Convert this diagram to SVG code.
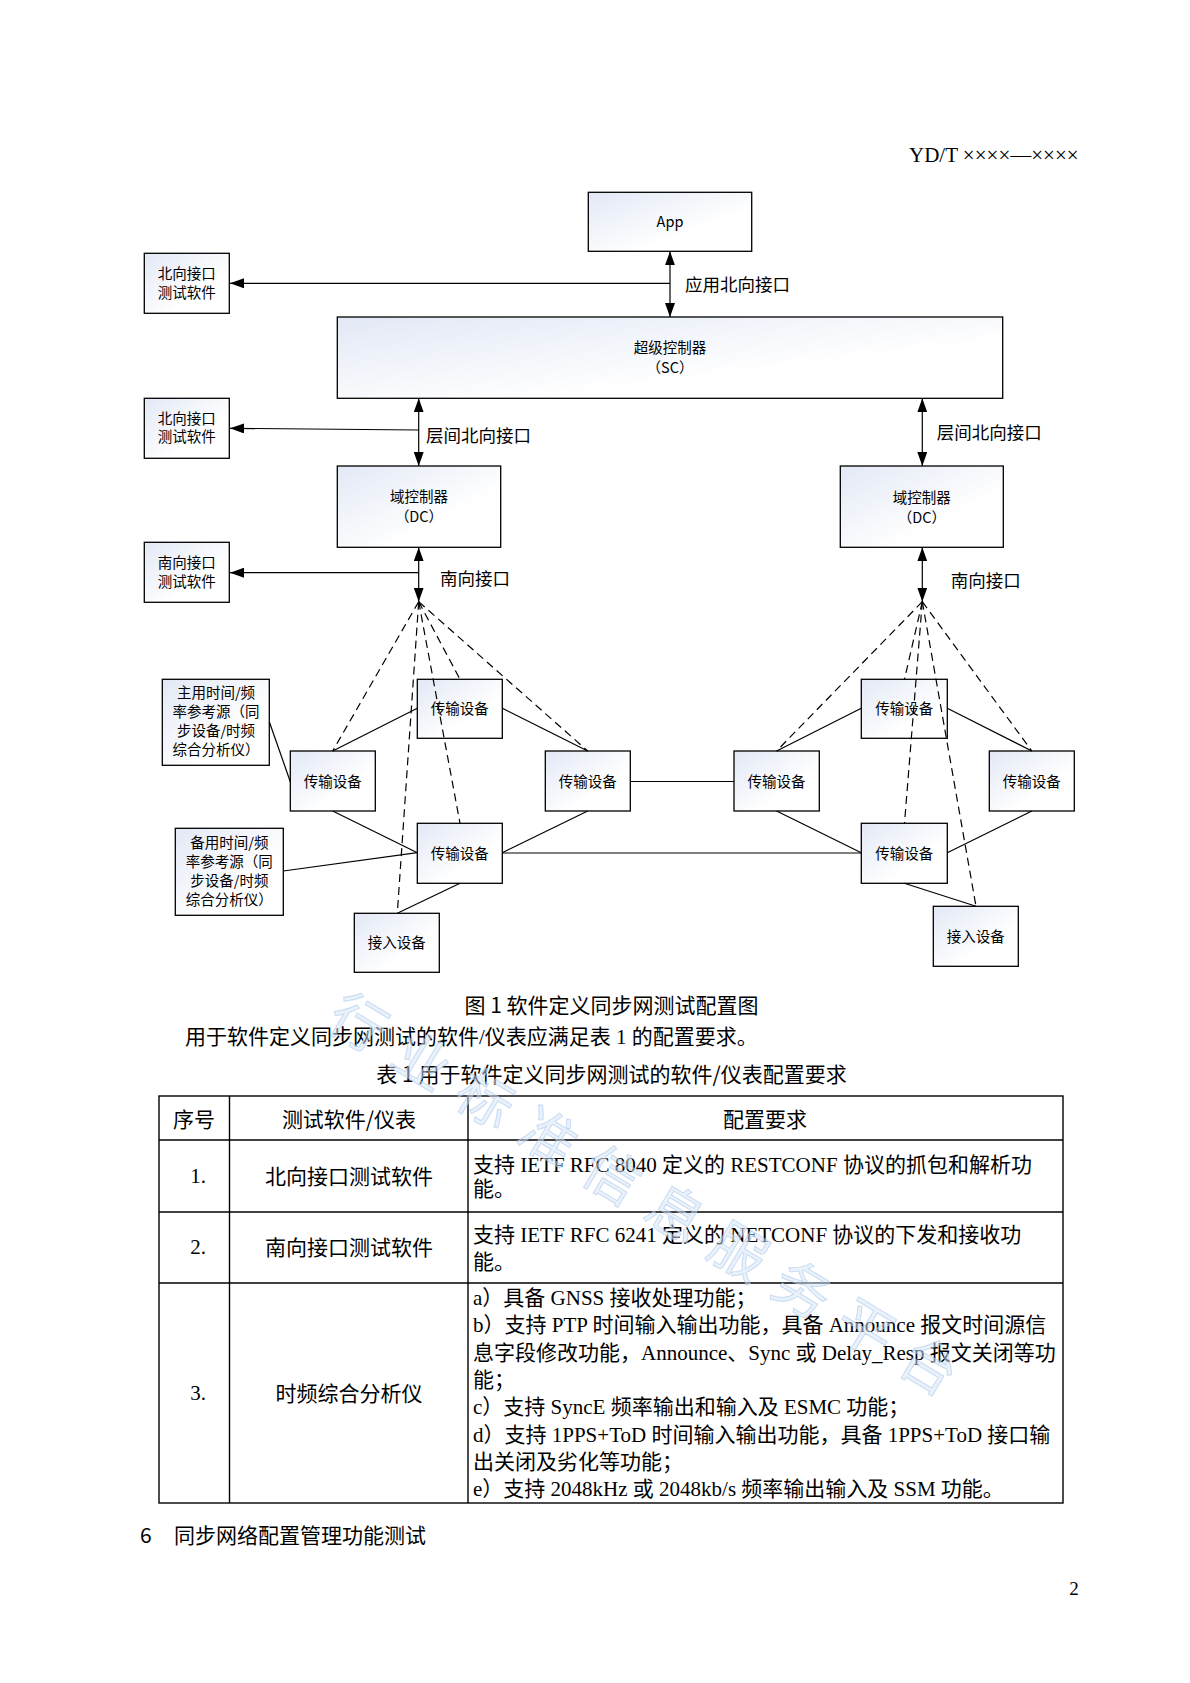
<svg xmlns="http://www.w3.org/2000/svg" width="1190" height="1683" viewBox="0 0 1190 1683">
<style>
.box{fill:url(#g);stroke:#000;stroke-width:1.3}
.nt{font-family:"Noto Sans CJK SC","Noto Sans",sans-serif;font-size:14.5px;fill:#000;text-anchor:middle}
.lb{font-family:"Noto Sans CJK SC","Noto Sans",sans-serif;font-size:17.5px;fill:#000}
.ln{stroke:#000;stroke-width:1.2;fill:none}
.ds{stroke:#000;stroke-width:1.2;fill:none;stroke-dasharray:8 5}
.hd{font-family:"Noto Sans CJK SC",sans-serif;font-size:21px;fill:#000}
.sr{font-family:"Liberation Serif","Noto Sans CJK SC",serif;font-size:21px;fill:#000}
.tb{stroke:#000;stroke-width:1.4;fill:none}
</style>
<defs>
<linearGradient id="g" x1="0" y1="0" x2="1" y2="1">
<stop offset="0" stop-color="#e2e8f5"/>
<stop offset="0.65" stop-color="#ffffff"/>
</linearGradient>
<marker id="ar" viewBox="0 0 14 10" refX="14" refY="5" markerWidth="14" markerHeight="10" markerUnits="userSpaceOnUse" orient="auto-start-reverse">
<path d="M0,0 L14,5 L0,10 z" fill="#000"/>
</marker>
</defs>
<rect width="1190" height="1683" fill="#fff"/>

<text x="909" y="162" font-family="Liberation Serif,serif" font-size="21">YD/T ××××—××××</text>

<g id="app"><rect class="box" x="588.3" y="192.3" width="163.4" height="59"/><text class="nt" x="670" y="227">App</text></g>
<g id="sc"><rect class="box" x="337.3" y="317" width="665.4" height="81.3"/><text class="nt" x="670" y="353.2">超级控制器</text><text class="nt" x="670" y="373.2">（SC）</text></g>
<g id="dc1"><rect class="box" x="337.3" y="466" width="163.4" height="81.3"/><text class="nt" x="419" y="502.2">域控制器</text><text class="nt" x="419" y="522.2">（DC）</text></g>
<g id="dc2"><rect class="box" x="840.3" y="466" width="163" height="81.3"/><text class="nt" x="921.8" y="502.8">域控制器</text><text class="nt" x="921.8" y="522.8">（DC）</text></g>
<g id="nt1"><rect class="box" x="144.3" y="253.3" width="85" height="60"/><text class="nt" x="186.8" y="278.8">北向接口</text><text class="nt" x="186.8" y="297.8">测试软件</text></g>
<g id="nt2"><rect class="box" x="144.3" y="398.3" width="85" height="60"/><text class="nt" x="186.8" y="423.5">北向接口</text><text class="nt" x="186.8" y="442.2">测试软件</text></g>
<g id="st1"><rect class="box" x="144.3" y="542.3" width="85" height="60"/><text class="nt" x="186.8" y="567.8">南向接口</text><text class="nt" x="186.8" y="587.2">测试软件</text></g>
<g id="ref1"><rect class="box" x="162.3" y="679.3" width="107" height="86"/><text class="nt" x="216" y="698">主用时间/频</text><text class="nt" x="216" y="717">率参考源（同</text><text class="nt" x="216" y="736">步设备/时频</text><text class="nt" x="216" y="755">综合分析仪）</text></g>
<g id="ref2"><rect class="box" x="175.3" y="828.3" width="108" height="87"/><text class="nt" x="229.3" y="847.5">备用时间/频</text><text class="nt" x="229.3" y="866.5">率参考源（同</text><text class="nt" x="229.3" y="885.5">步设备/时频</text><text class="nt" x="229.3" y="904.5">综合分析仪）</text></g>
<g id="t1"><rect class="box" x="417.3" y="679.3" width="85" height="59"/><text class="nt" x="459.8" y="714.3">传输设备</text></g>
<g id="t2"><rect class="box" x="290.3" y="751" width="85" height="60"/><text class="nt" x="332.8" y="786.5">传输设备</text></g>
<g id="t3"><rect class="box" x="545.3" y="751" width="85" height="60"/><text class="nt" x="587.8" y="786.5">传输设备</text></g>
<g id="t4"><rect class="box" x="417.3" y="823.3" width="85" height="60"/><text class="nt" x="459.8" y="858.8">传输设备</text></g>
<g id="a1"><rect class="box" x="354.3" y="913.3" width="85" height="59"/><text class="nt" x="396.8" y="948.3">接入设备</text></g>
<g id="t5"><rect class="box" x="861.3" y="679.3" width="86" height="59"/><text class="nt" x="904.3" y="714.3">传输设备</text></g>
<g id="t6"><rect class="box" x="734" y="751" width="85.3" height="60"/><text class="nt" x="776.6" y="786.5">传输设备</text></g>
<g id="t7"><rect class="box" x="989.3" y="751" width="85" height="60"/><text class="nt" x="1031.8" y="786.5">传输设备</text></g>
<g id="t8"><rect class="box" x="861.3" y="823.3" width="86" height="60"/><text class="nt" x="904.3" y="858.8">传输设备</text></g>
<g id="a2"><rect class="box" x="933.3" y="906.3" width="85" height="60"/><text class="nt" x="975.8" y="941.8">接入设备</text></g>

<g id="connectors">
<line class="ln" x1="670" y1="251.3" x2="670" y2="317" marker-start="url(#ar)" marker-end="url(#ar)"/>
<line class="ln" x1="670" y1="283.3" x2="230" y2="283.3" marker-end="url(#ar)"/>
<line class="ln" x1="418.7" y1="398.3" x2="418.7" y2="466" marker-start="url(#ar)" marker-end="url(#ar)"/>
<line class="ln" x1="418.7" y1="430" x2="230" y2="428.3" marker-end="url(#ar)"/>
<line class="ln" x1="922.3" y1="398.3" x2="922.3" y2="466" marker-start="url(#ar)" marker-end="url(#ar)"/>
<line class="ln" x1="418.7" y1="547.3" x2="418.7" y2="601.7" marker-start="url(#ar)" marker-end="url(#ar)"/>
<line class="ln" x1="418.7" y1="572.7" x2="230" y2="572.7" marker-end="url(#ar)"/>
<line class="ln" x1="922.3" y1="547.3" x2="922.3" y2="601.7" marker-start="url(#ar)" marker-end="url(#ar)"/>

<line class="ds" x1="418.7" y1="601.7" x2="332.7" y2="751"/>
<line class="ds" x1="418.7" y1="601.7" x2="397.3" y2="913.3"/>
<line class="ds" x1="418.7" y1="601.7" x2="460" y2="823.3"/>
<line class="ds" x1="418.7" y1="601.7" x2="460" y2="679.3"/>
<line class="ds" x1="418.7" y1="601.7" x2="587.7" y2="751"/>
<line class="ds" x1="922.3" y1="601.7" x2="776.6" y2="751"/>
<line class="ds" x1="922.3" y1="601.7" x2="904.5" y2="679.3"/>
<line class="ds" x1="922.3" y1="601.7" x2="904.5" y2="823.3"/>
<line class="ds" x1="922.3" y1="601.7" x2="976" y2="906.3"/>
<line class="ds" x1="922.3" y1="601.7" x2="1031.8" y2="751"/>

<line class="ln" x1="269.3" y1="721.7" x2="290.3" y2="781.7"/>
<line class="ln" x1="332.7" y1="751" x2="417.3" y2="708.3"/>
<line class="ln" x1="502.3" y1="708.3" x2="587.7" y2="751"/>
<line class="ln" x1="332.7" y1="811" x2="417.3" y2="852.7"/>
<line class="ln" x1="587.7" y1="811" x2="502.3" y2="852.7"/>
<line class="ln" x1="630.3" y1="781.5" x2="734" y2="781.5"/>
<line class="ln" x1="502.3" y1="853" x2="861.3" y2="853"/>
<line class="ln" x1="283.3" y1="871" x2="417.3" y2="852.7"/>
<line class="ln" x1="460" y1="883.3" x2="397.3" y2="913.3"/>
<line class="ln" x1="776.6" y1="751" x2="861.3" y2="708.3"/>
<line class="ln" x1="947.3" y1="708.3" x2="1031.8" y2="751"/>
<line class="ln" x1="776.6" y1="811" x2="861.3" y2="852.7"/>
<line class="ln" x1="1031.8" y1="811" x2="947.3" y2="852.7"/>
<line class="ln" x1="904.3" y1="883.3" x2="976" y2="906.3"/>
</g>

<text class="lb" x="685" y="290.8">应用北向接口</text>
<text class="lb" x="426" y="441.6">层间北向接口</text>
<text class="lb" x="936.7" y="439">层间北向接口</text>
<text class="lb" x="440" y="585">南向接口</text>
<text class="lb" x="950.7" y="586.6">南向接口</text>

<text class="hd" x="611.5" y="1013" text-anchor="middle">图 1 软件定义同步网测试配置图</text>
<text class="sr" x="185" y="1044">用于软件定义同步网测试的软件/仪表应满足表 1 的配置要求。</text>
<text class="hd" x="611.5" y="1082" text-anchor="middle">表 1 用于软件定义同步网测试的软件/仪表配置要求</text>

<g id="table">
<rect class="tb" x="159" y="1096" width="904" height="407"/>
<line class="tb" x1="159" y1="1140" x2="1063" y2="1140"/>
<line class="tb" x1="159" y1="1212" x2="1063" y2="1212"/>
<line class="tb" x1="159" y1="1283" x2="1063" y2="1283"/>
<line class="tb" x1="229.5" y1="1096" x2="229.5" y2="1503"/>
<line class="tb" x1="468" y1="1096" x2="468" y2="1503"/>
<text class="hd" x="194" y="1127" text-anchor="middle">序号</text>
<text class="hd" x="349" y="1127" text-anchor="middle">测试软件/仪表</text>
<text class="hd" x="765" y="1127" text-anchor="middle">配置要求</text>
<text class="sr" x="198" y="1183" text-anchor="middle">1.</text>
<text class="sr" x="349" y="1184" text-anchor="middle">北向接口测试软件</text>
<text class="sr" x="473" y="1172">支持 IETF RFC 8040 定义的 RESTCONF 协议的抓包和解析功</text>
<text class="sr" x="473" y="1196">能。</text>
<text class="sr" x="198" y="1254" text-anchor="middle">2.</text>
<text class="sr" x="349" y="1255" text-anchor="middle">南向接口测试软件</text>
<text class="sr" x="473" y="1242">支持 IETF RFC 6241 定义的 NETCONF 协议的下发和接收功</text>
<text class="sr" x="473" y="1269">能。</text>
<text class="sr" x="198" y="1400" text-anchor="middle">3.</text>
<text class="sr" x="349" y="1401" text-anchor="middle">时频综合分析仪</text>
<text class="sr" x="473" y="1305">a）具备 GNSS 接收处理功能；</text>
<text class="sr" x="473" y="1332.3">b）支持 PTP 时间输入输出功能，具备 Announce 报文时间源信</text>
<text class="sr" x="473" y="1359.6">息字段修改功能，Announce、Sync 或 Delay_Resp 报文关闭等功</text>
<text class="sr" x="473" y="1386.9">能；</text>
<text class="sr" x="473" y="1414.2">c）支持 SyncE 频率输出和输入及 ESMC 功能；</text>
<text class="sr" x="473" y="1441.5">d）支持 1PPS+ToD 时间输入输出功能，具备 1PPS+ToD 接口输</text>
<text class="sr" x="473" y="1468.8">出关闭及劣化等功能；</text>
<text class="sr" x="473" y="1496.1">e）支持 2048kHz 或 2048kb/s 频率输出输入及 SSM 功能。</text>
</g>

<text class="hd" x="140" y="1543">6</text>
<text class="hd" x="174" y="1543">同步网络配置管理功能测试</text>
<text x="1074" y="1595" font-family="Liberation Serif,serif" font-size="19" text-anchor="middle">2</text>

<text x="0" y="0" transform="translate(324,1026) rotate(31)" font-family="Noto Sans CJK SC,sans-serif" font-size="56" letter-spacing="18" fill="#d4e3f6" fill-opacity="0.5" stroke="#a9c6ea" stroke-opacity="0.55" stroke-width="1">行业标准信息服务平台</text>
</svg>
